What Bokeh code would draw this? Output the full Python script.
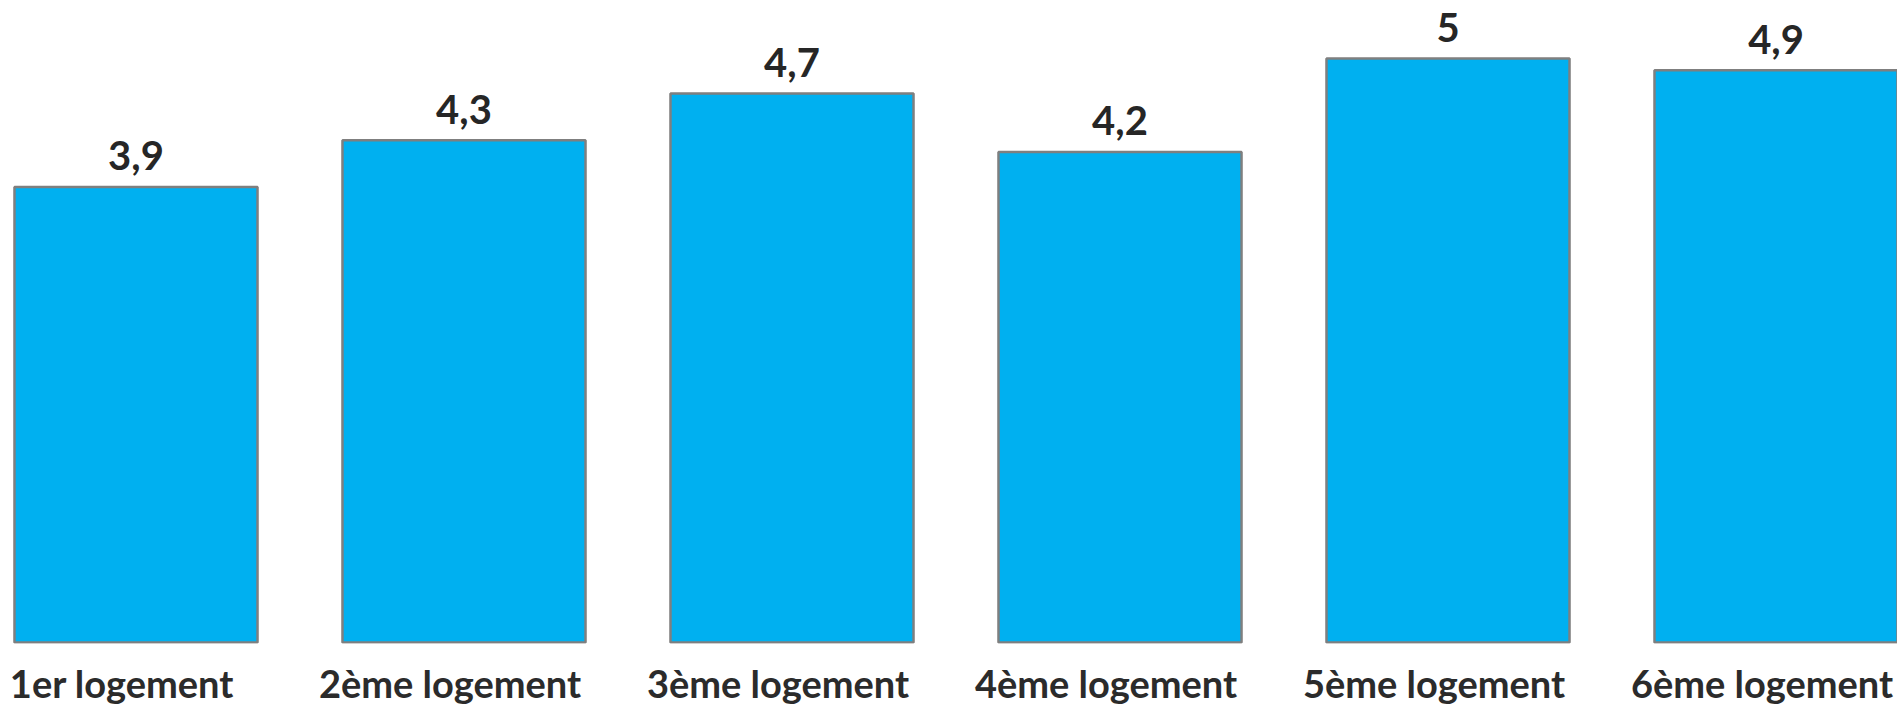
from bokeh.plotting import figure
from bokeh.models import Range1d, LinearAxis, FixedTicker, ColumnDataSource
from bokeh.embed import file_html
from bokeh.resources import INLINE
from bokeh.core.properties import value

categories = ["1er logement", "2ème logement", "3ème logement",
              "4ème logement", "5ème logement", "6ème logement"]
values = [3.9, 4.3, 4.7, 4.2, 5.0, 4.9]
value_labels = ["3,9", "4,3", "4,7", "4,2", "5", "4,9"]

xpos = [i + 0.5 for i in range(len(categories))]

W, H = 1897, 708
x_start, x_end = 0.0869, 5.8704
px_per_unit = 116.8
frame_h = 643.0
zero_px = 642.0
y_start = -(frame_h - zero_px) / px_per_unit
y_end = zero_px / px_per_unit
label_gap = 31 / px_per_unit
label_shift = 14 / 328.0

p = figure(width=W, height=H, output_backend="svg", toolbar_location=None,
           x_range=Range1d(x_start, x_end), y_range=Range1d(y_start, y_end),
           min_border_left=0, min_border_right=0, min_border_top=0,
           min_border_bottom=62, x_axis_location=None, y_axis_location=None)
p.outline_line_color = None
p.xgrid.visible = False
p.ygrid.visible = False
p.background_fill_color = "white"
p.border_fill_color = "white"

src = ColumnDataSource(dict(x=xpos, top=values, lab=value_labels,
                            ly=[v + label_gap for v in values]))

p.vbar(x="x", top="top", bottom=0, width=0.741, source=src,
       fill_color="#00B0F0", line_color="#7f7f7f", line_width=2.5)

p.text(x="x", y="ly", text="lab", source=src,
       text_align="center", text_baseline="alphabetic",
       text_font=value("Lato"), text_font_style="bold",
       text_font_size="40px", text_color="#262626")

p.extra_x_ranges = {"lab": Range1d(x_start + label_shift, x_end + label_shift)}
ax = LinearAxis(x_range_name="lab")
ax.ticker = FixedTicker(ticks=xpos)
ax.major_label_overrides = {x: c for x, c in zip(xpos, categories)}
ax.axis_line_color = None
ax.major_tick_line_color = None
ax.minor_tick_line_color = None
ax.major_tick_out = 0
ax.major_tick_in = 0
ax.minor_tick_out = 0
ax.minor_tick_in = 0
ax.major_label_text_font = "Lato"
ax.major_label_text_font_style = "bold"
ax.major_label_text_font_size = "38px"
ax.major_label_text_line_height = 1.0
ax.major_label_text_color = "#2b2b2b"
ax.major_label_standoff = 16
p.add_layout(ax, "below")

open("out.html", "w").write(file_html(p, INLINE))
